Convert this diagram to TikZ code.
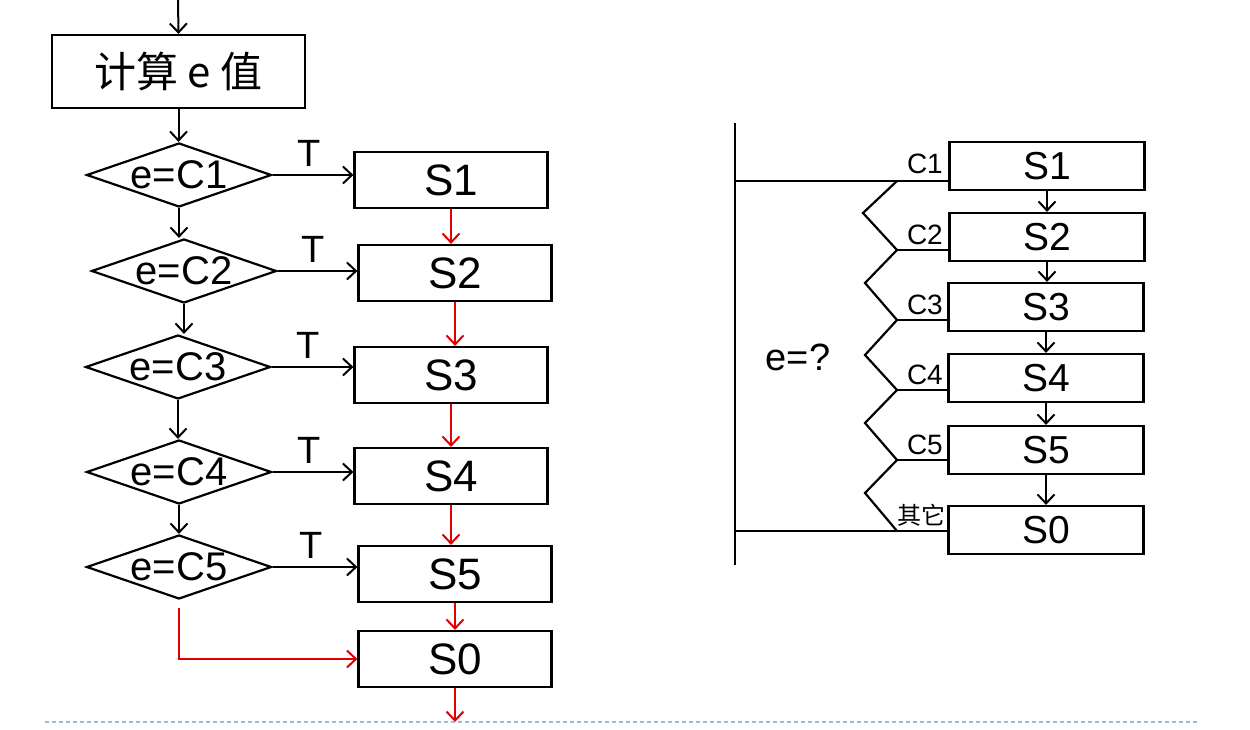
\documentclass[tikz,border=0pt]{standalone}
\usepackage{fontspec}
\setmainfont{Liberation Sans}
\newfontfamily\cjk{Noto Sans CJK SC}
\usetikzlibrary{shapes.geometric,arrows.meta}

\tikzset{
  blk/.style={draw, line width=2.2pt, inner sep=0pt},
  sbox/.style={blk, minimum width=193pt, minimum height=56pt, font=\fontsize{44}{48}\selectfont},
  rbox/.style={blk, minimum width=195pt, minimum height=48pt, font=\fontsize{39}{44}\selectfont},
  cond/.style={blk, diamond, aspect=2.85, minimum width=185pt, minimum height=64pt, font=\fontsize{40}{44}\selectfont},
  flow/.style={line width=2pt, ->},
  redflow/.style={line width=2pt, ->, red!90!black},
  wire/.style={line width=2.2pt},
}

\begin{document}
\begin{tikzpicture}[x=1pt, y=-1pt, >={Straight Barb[length=9pt,width=17pt]}]
  \useasboundingbox (0,0) rectangle (1250,730);

  % Left: chain of decisions
  \node[blk, minimum width=253pt, minimum height=73pt, font=\fontsize{42}{46}\selectfont] (calc) at (178.5,71.5) {\cjk 计算 e 值};
  \coordinate (top) at (178,0);
  \draw[flow] (top) -- (calc.north);

  \node[cond] (d1) at (179,175) {e=C1};
  \node[cond] (d2) at (184,271) {e=C2};
  \node[cond] (d3) at (178,367) {e=C3};
  \node[cond] (d4) at (179,472) {e=C4};
  \node[cond] (d5) at (179,567) {e=C5};

  \node[sbox] (s1) at (451,180) {S1};
  \node[sbox] (s2) at (455,273) {S2};
  \node[sbox] (s3) at (451,375) {S3};
  \node[sbox] (s4) at (451,476) {S4};
  \node[sbox] (s5) at (455,574) {S5};
  \node[sbox] (s0) at (455,659) {S0};

  \draw[flow] (calc.south) -- (calc.south |- d1.north);
  \foreach \a/\b in {d1/d2, d2/d3, d3/d4, d4/d5} {
    \draw[flow] (\a.south) -- (\a.south |- \b.north);
  }

  \foreach \d/\s in {d1/s1, d2/s2, d3/s3, d4/s4, d5/s5} {
    \draw[flow] (\d.east) -- node[pos=0.45, above=4pt, font=\fontsize{38}{40}\selectfont] {T} (\d.east -| \s.west);
  }

  \foreach \a/\b in {s1/s2, s2/s3, s3/s4, s4/s5, s5/s0} {
    \draw[redflow] (\a.south) -- (\a.south |- \b.north);
  }
  \draw[redflow] (d5.south) ++(0,8) |- (s0.west);
  \coordinate (out) at (455,722);
  \draw[redflow] (s0.south) -- (out);

  % Right: switch form
  \coordinate (vt) at (735,123);
  \coordinate (vb) at (735,565);
  \draw[wire] (vt) -- (vb);

  \node[rbox] (r1) at (1047,166) {S1};
  \node[rbox] (r2) at (1047,237) {S2};
  \node[rbox] (r3) at (1046,307) {S3};
  \node[rbox] (r4) at (1046,378) {S4};
  \node[rbox] (r5) at (1046,450) {S5};
  \node[rbox] (r0) at (1046,530) {S0};

  \foreach \a/\b in {r1/r2, r2/r3, r3/r4, r4/r5, r5/r0} {
    \draw[flow] (\a.south) -- (\a.south |- \b.north);
  }

  \draw[wire] (vt |- 0,181) -- (r1.west |- 0,181);
  \draw[wire] (vt |- 0,531) -- (r0.west |- 0,531);
  \draw[wire] (897,181) -- (863,213) -- (897,250) -- (865,283) -- (897,320)
    -- (865,355) -- (897,390) -- (865,423) -- (897,460) -- (865,493) -- (897,531);
  \foreach \y/\r in {250/r2, 320/r3, 390/r4, 460/r5} {
    \draw[wire] (897,\y) -- (\r.west |- 0,\y);
  }

  \foreach \y/\t in {174/C1, 244/C2, 314/C3, 384/C4, 454/C5} {
    \node[anchor=base east, inner sep=0pt, font=\fontsize{28}{30}\selectfont] (lab\t) at (943,\y) {\t};
  }
  \node[anchor=base east, inner sep=0pt, font=\fontsize{24}{26}\selectfont\cjk] (labother) at (946,524) {其它};
  \node[font=\fontsize{38}{40}\selectfont] (eq) at (798,357) {e=?};

  % bottom rule
  \draw[line width=1.6pt, color={rgb,255:red,160;green,185;blue,215}, dash pattern=on 4pt off 3pt] (45,722) -- (1197,722);
\end{tikzpicture}
\end{document}
